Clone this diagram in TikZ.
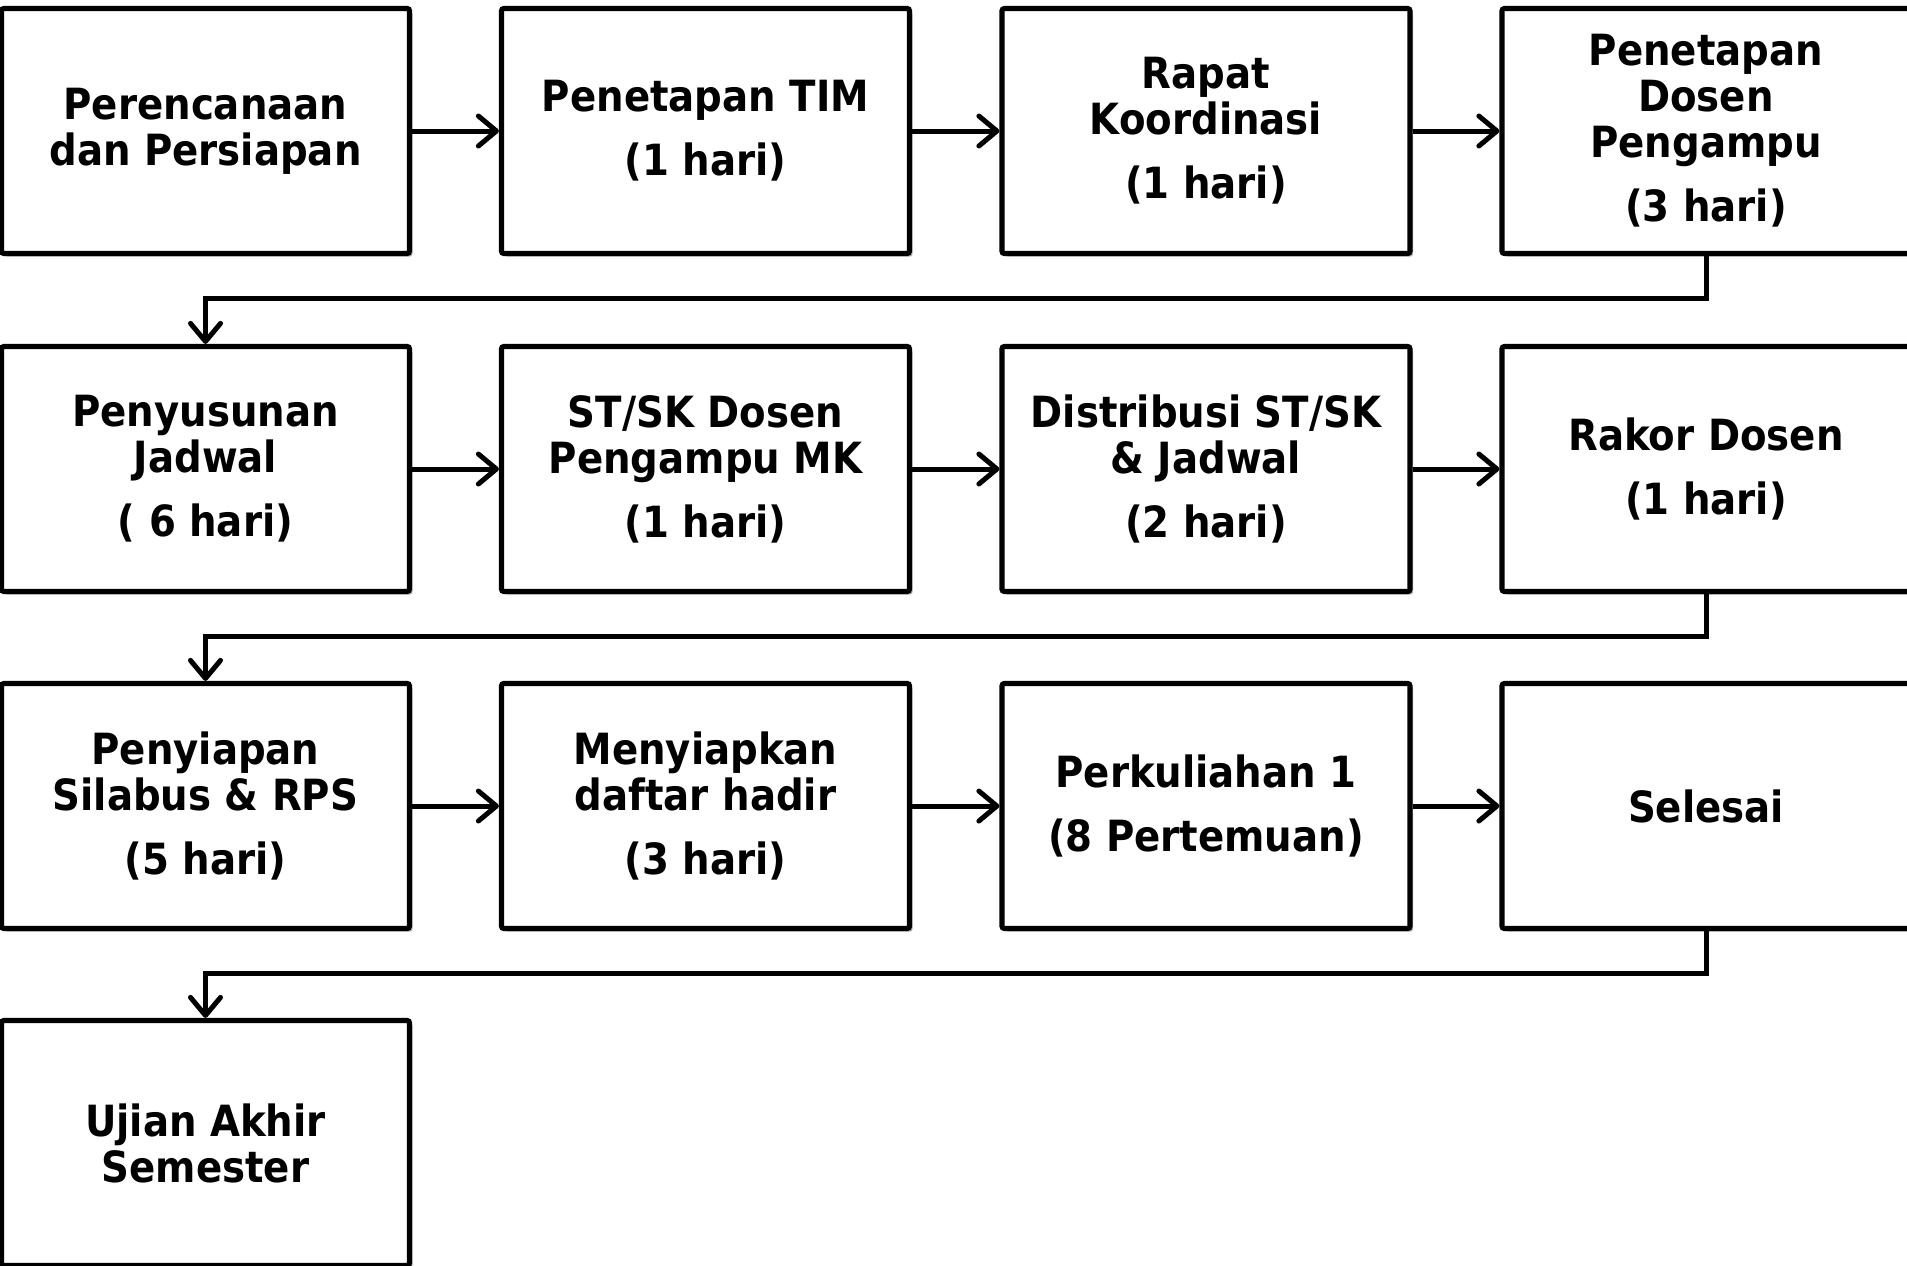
\documentclass[tikz,border=0pt]{standalone}
\usepackage{fontspec}
\newfontfamily\boxfont{DejaVu Sans Condensed Bold}
\usetikzlibrary{arrows.meta,shadows}
\begin{document}
\begin{tikzpicture}[x=0.5pt,y=-0.5pt,
  stepbox/.style={draw=black, line width=2.6pt, fill=white, rounded corners=1.2pt,
    minimum width=204pt, minimum height=122.5pt, inner sep=0pt, align=center,
    font=\boxfont\fontsize{21.5}{23}\selectfont,
    drop shadow={shadow xshift=1.5pt, shadow yshift=-1.5pt, opacity=0.3, fill=black}},
  arr/.style={line width=2.5pt, -{Straight Barb[length=9pt,width=15pt,round]}, line join=miter}]
\useasboundingbox[fill=white] (0,0) rectangle (1907,1265);
% row 1
\node[stepbox] (b1) at (205.5,131) {Perencanaan\\dan Persiapan};
\node[stepbox] (b2) at (705.5,131) {Penetapan TIM\\[9pt](1 hari)};
\node[stepbox] (b3) at (1206,131) {Rapat\\Koordinasi\\[9pt](1 hari)};
\node[stepbox] (b4) at (1706,131) {Penetapan\\Dosen\\Pengampu\\[9pt](3 hari)};
% row 2
\node[stepbox] (b5) at (205.5,469) {Penyusunan\\Jadwal\\[9pt]( 6 hari)};
\node[stepbox] (b6) at (705.5,469) {ST/SK Dosen\\Pengampu MK\\[9pt](1 hari)};
\node[stepbox] (b7) at (1206,469) {Distribusi ST/SK\\\& Jadwal\\[9pt](2 hari)};
\node[stepbox] (b8) at (1706,469) {Rakor Dosen\\[9pt](1 hari)};
% row 3
\node[stepbox] (b9) at (205.5,806) {Penyiapan\\Silabus \& RPS\\[9pt](5 hari)};
\node[stepbox] (b10) at (705.5,806) {Menyiapkan\\daftar hadir\\[9pt](3 hari)};
\node[stepbox] (b11) at (1206,806) {Perkuliahan 1\\[9pt](8 Pertemuan)};
\node[stepbox] (b12) at (1706,806) {Selesai};
% row 4
\node[stepbox] (b13) at (205.5,1143) {Ujian Akhir\\Semester};
% connectors
\coordinate (h1) at (0,298);
\coordinate (h2) at (0,636);
\coordinate (h3) at (0,973);
\draw[arr] (b1) -- (b2);
\draw[arr] (b2) -- (b3);
\draw[arr] (b3) -- (b4);
\draw[arr] (b4.south) -- (b4.south |- h1) -| (b5.north);
\draw[arr] (b5) -- (b6);
\draw[arr] (b6) -- (b7);
\draw[arr] (b7) -- (b8);
\draw[arr] (b8.south) -- (b8.south |- h2) -| (b9.north);
\draw[arr] (b9) -- (b10);
\draw[arr] (b10) -- (b11);
\draw[arr] (b11) -- (b12);
\draw[arr] (b12.south) -- (b12.south |- h3) -| (b13.north);
\end{tikzpicture}
\end{document}
